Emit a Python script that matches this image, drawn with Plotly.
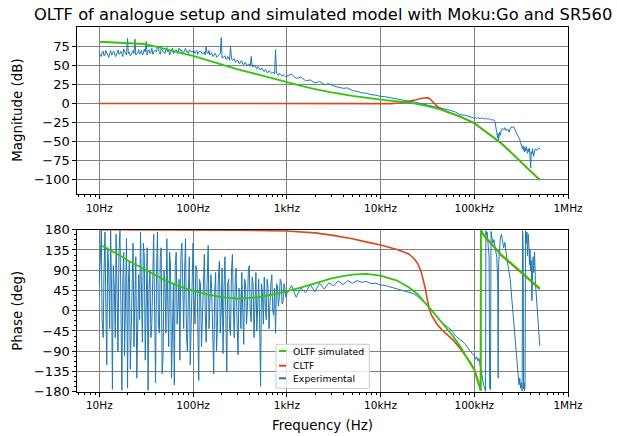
import plotly.graph_objects as go

W, H = 617, 436

# simulated open loop transfer function (green)
oltf_mag_freq = [10, 15, 20, 30, 40, 50, 70, 100, 150, 200, 300, 500, 700, 1000, 1500, 2000, 3000,
                 5000, 7000, 10000, 15000, 20000, 30000, 40000, 50000, 70000, 100000, 150000,
                 200000, 300000, 400000, 500000]
oltf_mag_db = [81.6, 80.8, 80.2, 78.6, 75.0, 71.8, 67.5, 63.0, 56.0, 51.0, 45.0, 38.0, 33.0, 27.5,
               22.5, 19.0, 14.5, 10.0, 7.3, 5.0, 2.8, 1.3, -2.8, -6.5, -10.5, -17.0, -26.0, -42.0,
               -54.0, -75.0, -90.0, -101.0]
oltf_ph_freq = [10, 15, 20, 30, 40, 50, 70, 100, 150, 200, 300, 500, 700, 1000, 1500, 2000, 3000,
                4000, 5000, 7000, 10000, 15000, 20000, 25000, 30000, 35000, 40000, 50000, 60000,
                70000, 80000, 90000, 100000, 110000, 117000, 117500, 125000, 140000, 160000,
                180000, 200000, 250000, 300000, 350000, 400000, 450000, 500000]
oltf_ph_deg = [147, 128, 112, 92, 78, 68, 55, 44, 35, 30, 27, 30, 36, 43, 53, 61, 72,
               77, 80, 82, 78, 67, 52, 36, 18, 1, -13, -38, -58,
               -78, -98, -115, -132, -160, -178, 180, 170, 158, 145,
               132, 122, 105, 90, 78, 67, 58, 50]

# closed loop transfer function (red)
cltf_mag_freq = [10, 100, 1000, 3000, 6000, 10000, 13000, 16000, 20000, 24000, 27000, 30000, 32000,
                 34000, 37000, 40000, 45000, 50000, 70000, 100000, 150000, 200000, 300000, 400000,
                 500000]
cltf_mag_db = [0, 0, 0, -0.2, -0.6, -0.7, -0.3, 0.6, 2.5, 4.8, 6.6, 7.8, 7.6,
               5.5, 1.0, -3.5, -7.5, -10.8, -17.2, -26.2, -42.2, -54.2, -75.2, -90.2,
               -101.2]
cltf_ph_freq = [10, 100, 300, 1000, 2000, 3000, 5000, 7000, 10000, 15000, 20000, 23000, 25000,
                27000, 29000, 30000, 31500, 33000, 35000, 40000, 45000, 50000, 60000, 70000,
                80000, 90000, 100000, 110000, 117000, 117500, 125000, 140000, 160000, 180000,
                200000, 250000, 300000, 350000, 400000, 450000, 500000]
cltf_ph_deg = [179.8, 179.5, 179, 177, 173, 168, 160, 153, 146, 136, 126, 115, 104,
               88, 65, 50, 25, 5, -10, -30, -42, -51, -66, -83,
               -99, -114, -130, -155, -177, 179, 168, 156, 143, 130,
               120, 103, 88, 76, 65, 56, 48]

# experimental measurement (blue), 10 Hz - 1 kHz
exp_freq_lo = [10.0, 10.2, 10.5, 10.7, 11.0, 11.2, 11.5, 11.7, 12.0, 12.3,
               12.6, 12.9, 13.2, 13.5, 13.8, 14.1, 14.5, 14.8, 15.1, 15.5,
               15.8, 16.2, 16.6, 17.0, 17.4, 17.8, 18.2, 18.6, 19.1, 19.5,
               20.0, 20.4, 20.9, 21.4, 21.9, 22.4, 22.9, 23.4, 24.0, 24.5,
               25.1, 25.7, 26.3, 26.9, 27.5, 28.2, 28.8, 29.5, 30.2, 30.9,
               31.6, 32.4, 33.1, 33.9, 34.7, 35.5, 36.3, 37.2, 38.0, 38.9,
               39.8, 40.7, 41.7, 42.7, 43.7, 44.7, 45.7, 46.8, 47.9, 49.0,
               50.1, 51.3, 52.5, 53.7, 55.0, 56.2, 57.5, 58.9, 60.3, 61.7,
               63.1, 64.6, 66.1, 67.6, 69.2, 70.8, 72.4, 74.1, 75.9, 77.6,
               79.4, 81.3, 83.2, 85.1, 87.1, 89.1, 91.2, 93.3, 95.5, 97.7,
               100, 102, 105, 107, 110, 112, 115, 117, 120, 123,
               126, 129, 132, 135, 138, 141, 145, 148, 151, 155,
               158, 162, 166, 170, 174, 178, 182, 186, 191, 195,
               200, 204, 209, 214, 219, 224, 229, 234, 240, 245,
               251, 257, 263, 269, 275, 282, 288, 295, 302, 309,
               316, 324, 331, 339, 347, 355, 363, 372, 380, 389,
               398, 407, 417, 427, 437, 447, 457, 468, 479, 490,
               501, 513, 525, 537, 550, 562, 575, 589, 603, 617,
               631, 646, 661, 676, 692, 708, 724, 741, 759, 776,
               794, 813, 832, 851, 871, 891, 912, 933, 955, 977]
exp_mag_lo = [66, 64, 62, 68, 69, 63, 64, 70, 67, 62,
              61, 66, 70, 64, 65, 69, 68, 62, 63, 67,
              71, 65, 66, 69, 64, 62, 72, 68, 67, 64,
              86, 66, 68, 63, 65, 69, 70, 66, 85, 64,
              66, 67, 71, 65, 67, 70, 64, 66, 72, 68,
              82, 64, 69, 71, 66, 67, 73, 65, 68, 70,
              70, 68, 76, 73, 67, 65, 72, 70, 69, 67,
              66, 71, 74, 68, 70, 64, 68, 72, 73, 66,
              69, 70, 71, 67, 66, 73, 72, 69, 70, 65,
              67, 71, 73, 68, 69, 66, 71, 70, 68, 69,
              68, 70, 66, 68, 70, 65, 67, 69, 69, 66,
              65, 67, 68, 64, 75, 67, 66, 70, 64, 65,
              67, 62, 63, 66, 66, 61, 62, 64, 64, 66,
              87, 60, 61, 62, 63, 59, 58, 62, 61, 57,
              75, 60, 57, 58, 59, 55, 55, 57, 57, 53,
              53, 56, 56, 52, 51, 54, 54, 51, 50, 52,
              52, 49, 62, 50, 48, 51, 50, 47, 46, 49,
              47, 45, 44, 47, 46, 43, 42, 45, 44, 41,
              41, 43, 42, 40, 40, 41, 41, 39, 71, 40,
              39, 37, 40, 38, 37, 36, 38, 37, 36, 35]
exp_ph_lo = [60, 120, 178, -20, -60, 80, 175, 30, -120, 140,
             90, -40, 178, 50, -175, 100, 40, -60, 170, 20,
             -90, 130, 178, 10, -177, 70, 130, -100, 20, 160,
             -172, 60, 110, -130, -40, 90, 150, -80, 0, 120,
             -150, 30, 80, -20, 175, 40, -70, 150, 120, -110,
             10, 140, -177, 50, 90, -60, -30, 110, 170, 0,
             -160, 80, 175, -30, -50, 120, 140, -140, -100, 90,
             60, -50, 160, 20, -80, 130, 100, -150, -20, 60,
             -165, 100, 130, -30, 10, 70, -110, 120, 150, 0,
             -40, 90, 160, -60, -90, 40, 120, -120, -20, 80,
             150, 40, -30, 100, 90, -20, -155, 70, 60, -80,
             10, 90, 125, -10, -70, 60, 145, -40, 20, 80,
             50, -60, -140, 40, 85, -90, -35, 70, 110, -50,
             0, 95, -95, 50, 120, -20, -135, 60, 70, -40,
             -55, 90, 125, 10, -60, 70, 95, -30, -98, 50,
             40, -40, 85, 0, -75, 70, 60, -30, 10, 90,
             100, 0, -25, 75, 60, -60, 10, 85, -45, 40,
             70, -20, -168, 60, 40, -30, 75, 10, -20, 70,
             50, -40, 20, 60, 80, 0, -10, 50, -50, 60,
             55, 10, 30, 70, 65, 15, 20, 60, 50, 30]

# 1 kHz - 100 kHz
exp_freq_mid = [1000, 1122, 1259, 1413, 1585, 1778, 1995, 2239, 2512, 2818, 3162, 3548, 3981, 4467,
                5012, 5623, 6310, 7079, 7943, 8913, 10000, 11220, 12590, 14130, 15850, 17780,
                19950, 22390, 25120, 28180, 31620, 35480, 39810, 44670, 50120, 56230, 63100,
                70790, 79430, 89130]
exp_mag_mid = [36, 39, 33, 35, 30, 31, 27, 29, 25, 26, 23, 22, 20, 20.5, 17, 16, 14, 13.5, 11.5, 11,
               9.3, 8.8, 7.5, 6.5, 5, 4.3, 3, 2.2, 0.8, -0.3, -1.8, -2.8, -4.5, -6.2, -8, -9.3, -11.5,
               -15, -15.5, -18]
exp_ph_mid = [38, 56, 30, 50, 40, 58, 42, 61, 48, 62, 55, 66, 58, 67, 61, 67, 63, 65, 60, 61,
              57, 56, 53, 50, 48, 45, 42, 38, 31, 22, 12, -1, -12, -26, -35, -42, -56, -64, -73,
              -88]

# 100 kHz - 500 kHz
exp_freq_hi = [100000, 103000, 106000, 109000, 112000, 115000, 118000, 122000, 126000, 130000,
               132000, 133000, 135000, 137000, 139000, 141000, 144000, 146000, 149000, 151000,
               154000, 158000, 162000, 166000, 170000, 174000, 178000, 180000, 182000, 186000,
               190000, 195000, 200000, 206000, 212000, 218000, 224000, 230000, 236000, 242000,
               248000, 255000, 262000, 270000, 278000, 286000, 294000, 300000, 306000, 312000,
               318000, 324000, 328000, 332000, 336000, 340000, 344000, 348000, 352000, 358000,
               364000, 370000, 376000, 382000, 388000, 394000, 400000, 406000, 412000, 418000,
               424000, 430000, 440000, 450000, 460000, 475000, 490000, 500000]
exp_mag_hi = [-19.5, -19, -20, -18.5, -19.5, -20.5, -19, -20, -19.5, -21,
              -20, -20.5, -19.5, -20, -21, -20, -20.5, -21.5, -20.5, -21,
              -22, -21.5, -22, -24, -30, -36, -46, -40, -48, -38,
              -42, -34, -33, -35, -32, -36, -34, -35, -38, -33,
              -31, -32, -30.5, -34, -37, -40, -43, -46, -48, -52,
              -55, -57, -60, -56, -62, -58, -64, -60, -63, -57,
              -62, -66, -60, -64, -59, -70, -85, -64, -67, -60,
              -66, -70, -63, -60, -62, -60, -59, -60]
exp_ph_hi = [-100, -108, -102, -112, -106, -118, -132, -150, -165, -174,
             -179, 178, 168, 175, 150, 135, 120, -172, -176, 176,
             165, 150, 158, 140, 128, 118, 60, -150, 105, 150,
             162, 170, 150, 140, 152, 126, 112, 98, 82, 70,
             42, 12, -20, -52, -92, -122, -142, -165, -150, -172,
             -160, -178, 178, 140, -174, -160, -178, -168, 178, 150,
             175, 122, 170, 150, 102, 135, 88, 112, 22, 92,
             120, 85, 130, 60, 30, -10, -50, -78]

exp_freq = exp_freq_lo + exp_freq_mid + exp_freq_hi
exp_mag_db = exp_mag_lo + exp_mag_mid + exp_mag_hi
exp_ph_deg = exp_ph_lo + exp_ph_mid + exp_ph_hi
assert len(exp_freq) == len(exp_mag_db) == len(exp_ph_deg)
assert len(oltf_ph_freq) == len(oltf_ph_deg) and len(cltf_ph_freq) == len(cltf_ph_deg)
assert len(oltf_mag_freq) == len(oltf_mag_db) and len(cltf_mag_freq) == len(cltf_mag_db)

freq_ticks = [10, 100, 1000, 10000, 100000, 1000000]
freq_labels = ['10Hz', '100Hz', '1kHz', '10kHz', '100kHz', '1MHz']
mag_ticks = [-100, -75, -50, -25, 0, 25, 50, 75]
ph_ticks = [-180, -135, -90, -45, 0, 45, 90, 135, 180]

BLUE = '#1f77b4'
RED = '#d8481a'
GREEN = '#2ec70a'
FONT = 'DejaVu Sans'


def px_x(x):
    return x / W


def px_y(y):
    return 1 - y / H


def minus(v):
    return str(v).replace('-', '\u2212')


fig = go.Figure()

# magnitude panel
fig.add_trace(go.Scatter(x=exp_freq, y=exp_mag_db, mode='lines', line=dict(color=BLUE, width=1),
                         xaxis='x', yaxis='y', showlegend=False))
fig.add_trace(go.Scatter(x=cltf_mag_freq, y=cltf_mag_db, mode='lines', line=dict(color=RED, width=1.6),
                         xaxis='x', yaxis='y', showlegend=False))
fig.add_trace(go.Scatter(x=oltf_mag_freq, y=oltf_mag_db, mode='lines', line=dict(color=GREEN, width=1.8),
                         xaxis='x', yaxis='y', showlegend=False))

# phase panel
fig.add_trace(go.Scatter(x=exp_freq, y=exp_ph_deg, mode='lines', line=dict(color=BLUE, width=1),
                         xaxis='x2', yaxis='y2', showlegend=False))
fig.add_trace(go.Scatter(x=cltf_ph_freq, y=cltf_ph_deg, mode='lines', line=dict(color=RED, width=1.6),
                         xaxis='x2', yaxis='y2', showlegend=False))
fig.add_trace(go.Scatter(x=oltf_ph_freq, y=oltf_ph_deg, mode='lines', line=dict(color=GREEN, width=1.8),
                         xaxis='x2', yaxis='y2', showlegend=False))

minor_x = [m * 10 ** e for e in range(0, 6) for m in range(2, 10)]

common_x = dict(type='log', range=[0.765, 6.0], domain=[px_x(77.3), px_x(568.0)],
                tickmode='array', tickvals=freq_ticks, ticktext=freq_labels,
                ticks='outside', ticklen=4, tickwidth=1, tickcolor='black',
                tickfont=dict(family=FONT, size=10.5, color='black'),
                showline=True, linecolor='black', linewidth=1, mirror=True,
                showgrid=True, gridcolor='#808080', gridwidth=1, zeroline=False,
                minor=dict(tickmode='array', tickvals=minor_x, ticks='outside', ticklen=2,
                           tickcolor='black', showgrid=False),
                automargin=False)
common_y = dict(ticks='outside', ticklen=4, tickwidth=1, tickcolor='black',
                tickfont=dict(family=FONT, size=13, color='black'),
                showline=True, linecolor='black', linewidth=1, mirror=True,
                showgrid=True, gridcolor='#808080', gridwidth=1, zeroline=False,
                automargin=False)

fig.update_layout(
    width=W, height=H,
    margin=dict(l=0, r=0, t=0, b=0),
    paper_bgcolor='white', plot_bgcolor='white',
    template='none',
    showlegend=False,
    xaxis=dict(common_x, anchor='y'),
    xaxis2=dict(common_x, anchor='y2'),
    yaxis=dict(common_y, anchor='x', domain=[px_y(194.0), px_y(27.3)], range=[-119.8, 100.7],
               tickmode='array', tickvals=mag_ticks, ticktext=[minus(v) for v in mag_ticks]),
    yaxis2=dict(common_y, anchor='x2', domain=[px_y(391.7), px_y(229.7)], range=[-180, 180],
                tickmode='array', tickvals=ph_ticks, ticktext=[minus(v) for v in ph_ticks],
                minor=dict(dtick=11.25, ticks='outside', ticklen=2, tickcolor='black', showgrid=False)),
)

# titles
fig.add_annotation(text='OLTF of analogue setup and simulated model with Moku:Go and SR560',
                   x=px_x(322.6), y=px_y(14), xref='paper', yref='paper', showarrow=False,
                   xanchor='center', yanchor='middle', font=dict(family=FONT, size=16.3, color='black'))
fig.add_annotation(text='Magnitude (dB)', x=px_x(18), y=px_y(110.7), xref='paper', yref='paper',
                   showarrow=False, textangle=-90, xanchor='center', yanchor='middle',
                   font=dict(family=FONT, size=13.4, color='black'))
fig.add_annotation(text='Phase (deg)', x=px_x(18), y=px_y(310.7), xref='paper', yref='paper',
                   showarrow=False, textangle=-90, xanchor='center', yanchor='middle',
                   font=dict(family=FONT, size=13.4, color='black'))
fig.add_annotation(text='Frequency (Hz)', x=px_x(322.6), y=px_y(425), xref='paper', yref='paper',
                   showarrow=False, xanchor='center', yanchor='middle',
                   font=dict(family=FONT, size=13.4, color='black'))

# legend box (matplotlib style, short handles)
fig.add_shape(type='rect', xref='paper', yref='paper',
              x0=px_x(276), x1=px_x(369.3), y0=px_y(388.3), y1=px_y(344.3),
              line=dict(color='#cccccc', width=1), fillcolor='rgba(255,255,255,0.8)', layer='above')
legend_items = [('OLTF simulated', GREEN, 351.0), ('CLTF', RED, 365.7), ('Experimental', BLUE, 378.3)]
for label, col, yy in legend_items:
    fig.add_shape(type='line', xref='paper', yref='paper', x0=px_x(279), x1=px_x(286),
                  y0=px_y(yy), y1=px_y(yy), line=dict(color=col, width=2), layer='above')
    fig.add_annotation(text=label, x=px_x(291), y=px_y(yy), xref='paper', yref='paper',
                       showarrow=False, xanchor='left', yanchor='middle',
                       font=dict(family=FONT, size=9.3, color='black'))

# the page body has a default 8px margin; drop it so the figure sits at the window origin
fig.write_html("out.html", config={'displayModeBar': False},
               post_script="document.body.style.margin='0px';")
